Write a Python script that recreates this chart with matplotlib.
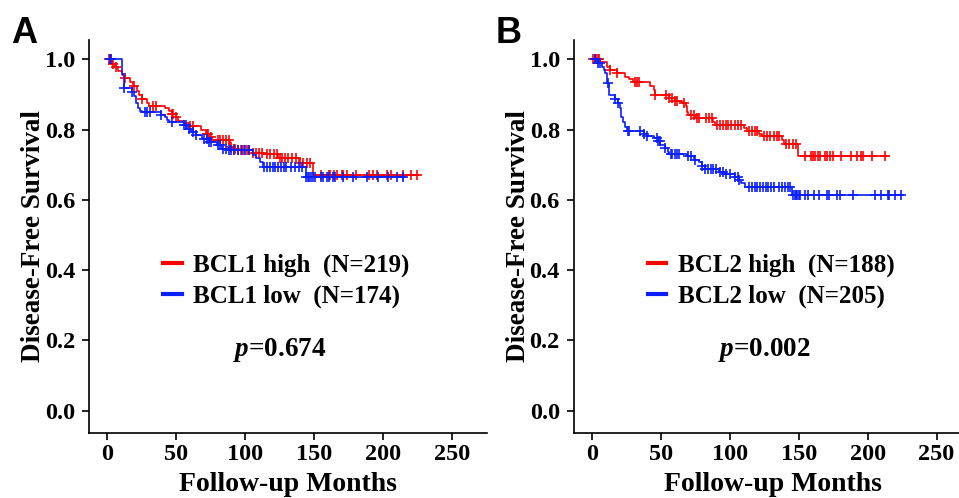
import numpy as np
import matplotlib
matplotlib.use("Agg")
import matplotlib.pyplot as plt

plt.rcParams['mathtext.fontset'] = 'custom'
plt.rcParams['mathtext.it'] = 'Liberation Serif:italic:bold'
plt.rcParams['mathtext.rm'] = 'Liberation Serif:bold'

# ---------------- data ----------------
# Panel A (BCL1)
a_high_t = [0, 3.2, 5.6, 8, 10.4, 12.9, 16.5, 18.9, 21.3, 23.3, 25, 28.6, 30.5, 41.5, 44.6, 47, 49.5,
            51.2, 55.5, 59, 67.7, 71.3, 73.8, 76, 89, 91.5, 95, 105.5, 114, 124, 139, 149.6, 226]
a_high_s = [1.0, 0.988, 0.977, 0.966, 0.955, 0.946, 0.935, 0.923, 0.911, 0.900, 0.887, 0.875, 0.868,
            0.861, 0.854, 0.845, 0.835, 0.826, 0.818, 0.809, 0.800, 0.789, 0.778, 0.770, 0.750, 0.745,
            0.741, 0.734, 0.730, 0.718, 0.705, 0.672, 0.672]
a_high_cens = [1, 2, 3, 4, 6, 13, 19, 25, 33, 35, 47, 48, 50, 60, 62, 72, 73, 75, 80, 82, 84, 86, 88,
               90, 92, 93, 95, 97, 99, 101, 103, 106, 108, 110, 112, 116, 118, 121, 123, 125, 127,
               129, 131, 134, 137, 140, 142, 145, 147, 155.1, 161.1, 161.6, 164.7, 166.5, 170.1,
               171.3, 173.7, 180.5, 190.1, 192.6, 195.5, 202.8, 205.9, 214.4, 220.2, 224.5]

a_low_t = [0, 11, 11.8, 17.8, 19.5, 21, 22.2, 23.9, 25, 38.7, 41.5, 43.5, 45, 55.5, 58, 60.4, 64, 68.8,
           73.7, 79.7, 83.3, 87, 105.7, 108.2, 110.6, 113, 144, 216]
a_low_s = [1.0, 0.958, 0.918, 0.906, 0.896, 0.877, 0.863, 0.854, 0.849, 0.843, 0.835, 0.828, 0.821,
           0.812, 0.803, 0.793, 0.784, 0.774, 0.766, 0.755, 0.745, 0.741, 0.727, 0.718, 0.708, 0.693,
           0.665, 0.665]
a_low_cens = [2, 3, 12, 18, 27, 29, 31, 39, 47, 56, 57, 59, 62, 64, 70, 72, 74, 75, 80, 82, 84, 86, 88,
              90, 92, 95, 98, 100, 103, 114, 116, 118, 120, 122, 124, 126, 128, 130, 133, 136, 139,
              141, 144.5, 145.5, 146.5, 147.5, 149, 151, 155.1, 156.8, 159.2, 161.1, 163.6, 165.2,
              170.8, 178.1, 188.2, 196.7, 203.5, 210.5, 214.4]

# Panel B (BCL2)
b_high_t = [0, 6, 11, 13, 18, 24, 27, 30, 42, 45, 46, 56, 60, 65, 68, 69, 70, 75, 88, 89.5, 110,
            112.5, 121, 123, 138, 139, 149.5, 215]
b_high_s = [1.0, 0.992, 0.979, 0.970, 0.962, 0.951, 0.943, 0.935, 0.924, 0.913, 0.900, 0.889, 0.882,
            0.875, 0.867, 0.851, 0.842, 0.834, 0.823, 0.813, 0.806, 0.796, 0.789, 0.782, 0.770, 0.759,
            0.725, 0.725]
b_high_cens = [1, 2, 3, 4, 5, 13, 18, 31, 33, 34, 46, 54, 56, 58, 60, 62, 67, 72, 74, 76, 78, 83, 85,
               87, 91, 93, 95, 97, 99, 101, 104, 106, 108, 114, 116, 118, 120, 125, 127, 129, 132,
               134, 136, 141, 143, 146, 148, 154.9, 158.9, 160.4, 162.1, 163.8, 165.7, 169.4, 170.5,
               172.5, 174.9, 181.0, 188.2, 192.3, 195.2, 196.7, 203.2, 212.9]

b_low_t = [0, 3.6, 7, 8.5, 9.7, 11, 12, 17, 19, 20, 21, 22.5, 23.7, 25.4, 37.5, 40, 45, 48, 49.6, 53,
           55, 56, 69, 74, 77.4, 80, 82, 92, 95.5, 104, 106.4, 108.4, 111, 145, 226]
b_low_s = [1.0, 0.989, 0.979, 0.970, 0.960, 0.932, 0.900, 0.886, 0.875, 0.861, 0.837, 0.823, 0.808,
           0.797, 0.789, 0.783, 0.775, 0.768, 0.756, 0.747, 0.737, 0.730, 0.725, 0.715, 0.707, 0.696,
           0.688, 0.680, 0.673, 0.666, 0.657, 0.649, 0.636, 0.614, 0.614]
b_low_cens = [2, 4, 6, 11.5, 17, 19, 26, 27, 35, 38, 40, 47, 48, 49, 53, 57, 58, 60, 62, 63, 70, 72,
              75, 80, 82, 84, 86, 88, 90, 93, 95, 97, 100, 104, 106, 107, 114, 116, 118, 120, 122,
              124, 126, 128, 130, 132, 136, 138, 140, 142, 144, 146, 147, 148, 149, 150, 151, 154.9,
              156.5, 160.9, 164.5, 170.6, 171.8, 177.8, 179.8, 189.5, 205.7, 209.7, 214.6, 215.5,
              220.1, 224.2]

panel_letters = ["A", "B"]
labels_a = ["BCL1 high  (N=219)", "BCL1 low  (N=174)"]
labels_b = ["BCL2 high  (N=188)", "BCL2 low  (N=205)"]
pvals = ["0.674", "0.002"]
xticks = [0, 50, 100, 150, 200, 250]
yticks = [0.0, 0.2, 0.4, 0.6, 0.8, 1.0]

RED = "#ff0000"
BLUE = "#0a1eff"
serif = "Liberation Serif"

fig = plt.figure(figsize=(9.59, 4.98), dpi=100)
ax_a = fig.add_axes([0.0928, 0.131, 0.415, 0.7886])
ax_b = fig.add_axes([0.5982, 0.131, 0.415, 0.7886])


def km(ax, t, s, cens, color, label):
    t = np.asarray(t, float)
    s = np.asarray(s, float)
    ax.step(t, s, where="post", color=color, lw=1.2, label=label, zorder=3)
    c = np.asarray(cens, float)
    idx = np.searchsorted(t, c, side="right") - 1
    ax.plot(c, s[idx], ls="none", marker="+", ms=6.5, mew=1.2, color=color, zorder=3)


def style(ax, letter, labels, pval):
    ax.set_xlim(-13.3, 275.5)
    ax.set_ylim(-0.0626, 1.055)
    for sp in ["top", "right"]:
        ax.spines[sp].set_visible(False)
    for sp in ["left", "bottom"]:
        ax.spines[sp].set_linewidth(1.2)
    ax.set_xticks(xticks)
    ax.set_yticks(yticks)
    ax.set_yticklabels([f"{v:.1f}" for v in yticks])
    ax.tick_params(length=5, width=1.2, labelsize=17.5)
    ax.tick_params(axis="x", pad=3)
    ax.tick_params(axis="y", pad=5)
    for lab in ax.get_xticklabels() + ax.get_yticklabels():
        lab.set_fontfamily(serif)
        lab.set_fontweight("bold")
    ax.set_xlabel("Follow-up Months", fontsize=20, fontfamily=serif, fontweight="bold", labelpad=5)
    ax.set_ylabel("Disease-Free Survival", fontsize=19.5, fontfamily=serif, fontweight="bold", labelpad=-1)
    h1 = plt.Line2D([], [], color=RED, lw=3)
    h2 = plt.Line2D([], [], color=BLUE, lw=3)
    ax.legend([h1, h2], labels, loc="upper left", bbox_to_anchor=(0.186, 0.455),
              frameon=False, borderpad=0, borderaxespad=0, handlelength=0.75,
              handletextpad=0.45, labelspacing=0.3,
              prop={"family": serif, "weight": "bold", "size": 18})
    ax.text(0.48, 0.21, r"$\it{p}$=" + pval, transform=ax.transAxes, ha="center", va="center",
            fontsize=19.5, fontfamily=serif, fontweight="bold")
    ax.text(-0.195, 0.992, letter, transform=ax.transAxes, fontsize=26, fontweight="bold",
            fontfamily="Liberation Sans", ha="left", va="baseline")


km(ax_a, a_high_t, a_high_s, a_high_cens, RED, labels_a[0])
km(ax_a, a_low_t, a_low_s, a_low_cens, BLUE, labels_a[1])
km(ax_b, b_high_t, b_high_s, b_high_cens, RED, labels_b[0])
km(ax_b, b_low_t, b_low_s, b_low_cens, BLUE, labels_b[1])
style(ax_a, panel_letters[0], labels_a, pvals[0])
style(ax_b, panel_letters[1], labels_b, pvals[1])

fig.savefig("out.png", dpi=100)
